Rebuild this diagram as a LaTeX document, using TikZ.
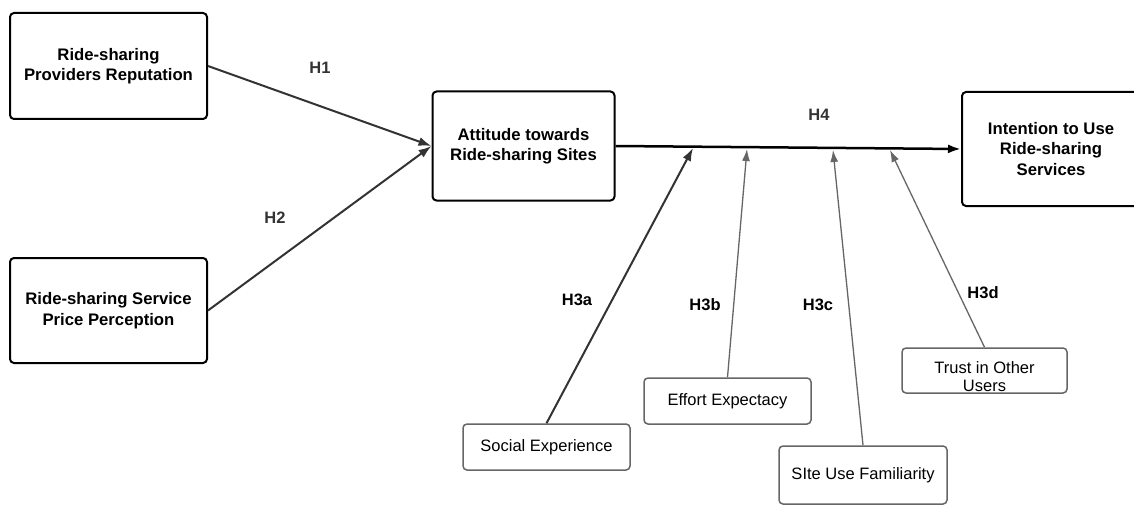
\documentclass[tikz,border=0pt]{standalone}
\usepackage{fontspec}
\setmainfont{Liberation Sans}
\usetikzlibrary{arrows,arrows.meta,calc}
\definecolor{darkline}{HTML}{333333}
\definecolor{greyline}{HTML}{666666}
\tikzstyle{construct}=[draw=black,line width=2pt,rounded corners=4pt,align=center,
                inner sep=0pt,font=\fontsize{16.7}{20.5}\selectfont\bfseries]
\tikzstyle{factor}=[draw=greyline,line width=1.5pt,rounded corners=4pt,align=center,
                inner sep=0pt,font=\fontsize{16.5}{18.5}\selectfont]
\tikzstyle{hyp}=[font=\fontsize{16.5}{20}\selectfont\bfseries,text=darkline]
\tikzstyle{mainarrow}=[draw=darkline,line width=2pt,-{Latex[length=13pt,width=9pt]}]
\tikzstyle{modarrow}=[draw=greyline,line width=1.3pt,-{Latex[length=12pt,width=8pt]}]

\begin{document}
\begin{tikzpicture}[x=1pt,y=-1pt]
\useasboundingbox (0,0) rectangle (1134,505);
\fill[white] (0,0) rectangle (1134,505);
\clip (0,0) rectangle (1134,505);
\node[construct,minimum width=197pt,minimum height=106pt] (rep) at (108.5,66) {Ride-sharing\\Providers Reputation};
\node[construct,minimum width=197pt,minimum height=105pt] (price) at (108.5,310.5) {Ride-sharing Service\\Price Perception};
\node[construct,minimum width=182pt,minimum height=109pt] (att) at (523.5,146) {Attitude towards\\Ride-sharing Sites};
\node[construct,minimum width=178pt,minimum height=114pt] (intent) at (1051,149) {Intention to Use\\Ride-sharing\\Services};
\node[factor,minimum width=167pt,minimum height=46pt] (social) at (546.5,447) {Social Experience};
\node[factor,minimum width=167pt,minimum height=46pt] (effort) at (727.5,401) {Effort Expectacy};
\node[factor,minimum width=168pt,minimum height=58pt] (site) at (863,475) {SIte Use Familiarity};
\node[factor,minimum width=165pt,minimum height=45pt] (trust) at (984.5,370.5) {\rule{0pt}{24pt}Trust in Other\\Users};
\node[hyp] (h1) at (320,68) {H1};
\node[hyp] (h2) at (275,218) {H2};
\node[hyp] (h4) at (819,115) {H4};
\node[hyp,text=black] (h3a) at (577,300) {H3a};
\node[hyp,text=black] (h3b) at (705,305) {H3b};
\node[hyp,text=black] (h3c) at (818,305) {H3c};
\node[hyp,text=black] (h3d) at (983,293) {H3d};
\coordinate (m1) at (693,148);
\coordinate (m2) at (747,149);
\coordinate (m3) at (833,150);
\coordinate (m4) at (890,150);
\draw[mainarrow] (rep.east) -- (att.west);
\draw[mainarrow] (price.east) -- (att.west);
\draw[mainarrow,draw=black,line width=2.5pt] (att.east) -- (intent.west);
\draw[mainarrow] (social.north) -- (m1);
\draw[modarrow] (effort.north) -- (m2);
\draw[modarrow] (site.north) -- (m3);
\draw[modarrow] (trust.north) -- (m4);
\end{tikzpicture}
\end{document}
